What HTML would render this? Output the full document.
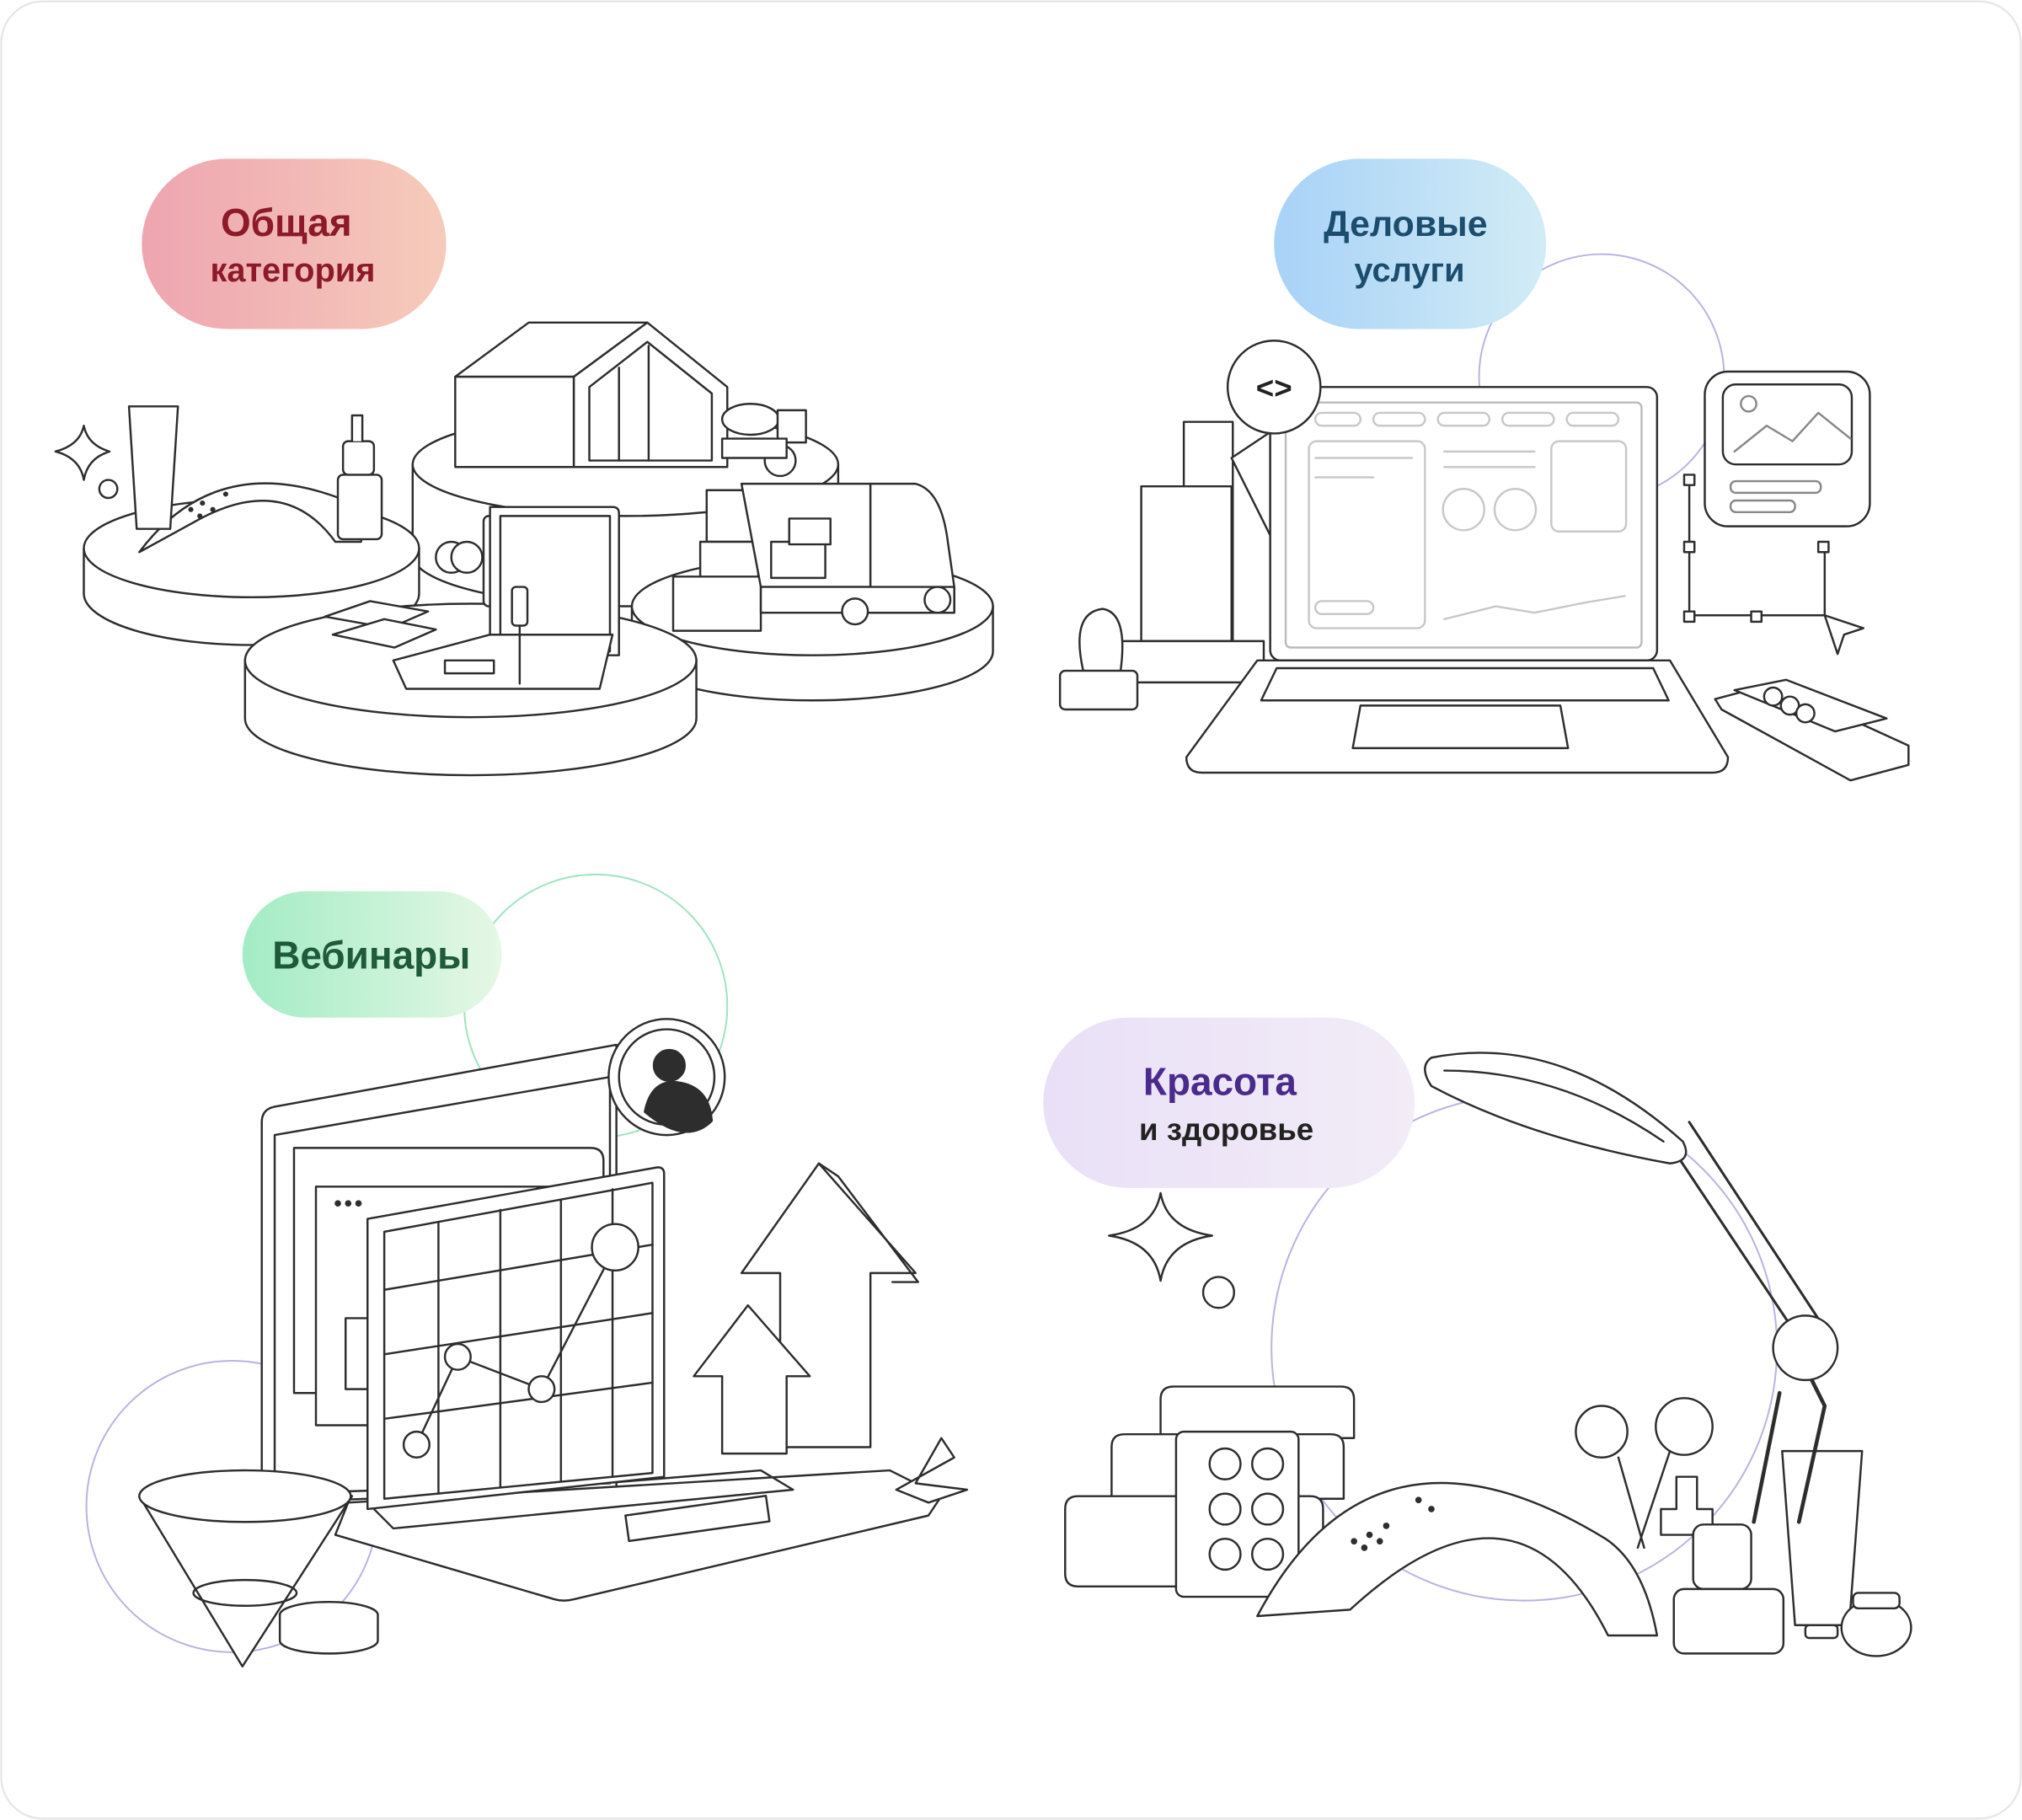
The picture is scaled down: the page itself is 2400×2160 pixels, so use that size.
<!DOCTYPE html>
<html><head><meta charset="utf-8"><style>
html,body{margin:0;padding:0;background:#fff;}
svg{display:block}
text{font-family:"Liberation Sans",sans-serif;font-weight:bold;}
</style></head><body>
<svg width="2400" height="2160" viewBox="0 0 1568 1411" xmlns="http://www.w3.org/2000/svg">
<defs>
<linearGradient id="g1" x1="0" x2="1"><stop offset="0" stop-color="#eea5b0"/><stop offset="1" stop-color="#f6cbbb"/></linearGradient>
<linearGradient id="g2" x1="0" x2="1"><stop offset="0" stop-color="#a8d2f7"/><stop offset="1" stop-color="#d2ecf6"/></linearGradient>
<linearGradient id="g3" x1="0" x2="1"><stop offset="0" stop-color="#a3ecc4"/><stop offset="1" stop-color="#e6f7e6"/></linearGradient>
<linearGradient id="g4" x1="0" x2="1"><stop offset="0" stop-color="#e9e0f7"/><stop offset="1" stop-color="#f2ecf7"/></linearGradient>
</defs>
<rect x="1" y="1" width="1566" height="1409" rx="32" fill="#fff" stroke="#e6e6e6" stroke-width="1.5"/>

<!-- decorative circles -->
<g fill="none" stroke-width="1.3">
<circle cx="1242" cy="292" r="95" stroke="#b9b3e0"/>
<circle cx="462" cy="780" r="102" stroke="#9fe3c0"/>
<circle cx="180" cy="1168" r="113" stroke="#b9b3e0"/>
<circle cx="1182" cy="1045" r="196" stroke="#b9b3e0"/>
</g>

<g fill="#fff" stroke="#2d2d2d" stroke-width="1.6" stroke-linejoin="round" stroke-linecap="round">
<!-- ===== TOP LEFT ===== -->
<path d="M320 360 v70 a165 40 0 0 0 330 0 v-70"/>
<ellipse cx="485" cy="360" rx="165" ry="40"/>
<path d="M65 425 v35 a130 40 0 0 0 260 0 v-35"/>
<ellipse cx="195" cy="425" rx="130" ry="38"/>
<path d="M490 470 v35 a140 38 0 0 0 280 0 v-35"/>
<ellipse cx="630" cy="470" rx="140" ry="38"/>
<path d="M190 512 v45 a175 44 0 0 0 350 0 v-45"/>
<ellipse cx="365" cy="512" rx="175" ry="44"/>
<!-- house -->
<path d="M353 292 l57 -42 h92 l-57 42 z"/>
<rect x="353" y="292" width="92" height="70"/>
<path d="M445 292 l57 -42 l62 50 v62 h-119 z"/>
<path d="M457 300 l45 -35 l50 40 v52 h-95 z"/>
<line x1="480" y1="285" x2="480" y2="357"/><line x1="503" y1="268" x2="503" y2="357"/>
<!-- mixer -->
<ellipse cx="582" cy="325" rx="22" ry="12"/><rect x="603" y="318" width="22" height="25"/>
<circle cx="605" cy="357" r="12"/><rect x="560" y="340" width="50" height="15"/>
<!-- lamp arch + bottles -->
<path d="M108 428 q60 -80 160 -40 q15 8 12 32 l-20 0 q-40 -55 -110 -15 z"/>
<g fill="#2d2d2d" stroke="none"><circle cx="148" cy="395" r="2"/><circle cx="157" cy="390" r="2"/><circle cx="155" cy="400" r="2"/><circle cx="165" cy="395" r="2"/><circle cx="175" cy="383" r="2"/></g>
<path d="M100 315 h38 l-6 95 h-26 z"/>
<rect x="262" y="368" width="34" height="50" rx="4"/><rect x="266" y="342" width="24" height="26" rx="4"/><path d="M273 342 v-20 h8 v20"/>
<path d="M65 330 q3 15 20 20 q-17 5 -20 22 q-3 -17 -22 -22 q19 -5 22 -20z"/>
<circle cx="84" cy="379" r="7"/>
<!-- camera & laptop -->
<rect x="375" y="400" width="35" height="70" rx="4"/>
<circle cx="350" cy="432" r="12"/><circle cx="362" cy="432" r="12"/>
<path d="M380 393 h95 q5 0 5 5 v110 h-100 z"/>
<rect x="388" y="400" width="85" height="105"/>
<path d="M305 512 l75 -20 h95 l-10 42 h-150 z"/>
<rect x="345" y="512" width="38" height="10"/>
<rect x="397" y="455" width="12" height="30" rx="3"/><line x1="403" y1="485" x2="403" y2="530"/>
<path d="M252 478 l35 -12 l45 8 l-30 13 z"/><path d="M258 492 l40 -12 l40 8 l-32 14 z"/>
<!-- van & boxes -->
<rect x="548" y="380" width="42" height="40"/><rect x="543" y="420" width="45" height="30"/>
<rect x="522" y="447" width="68" height="42"/>
<path d="M575 375 h100 v80 h-85 z"/>
<path d="M675 375 h35 q20 5 25 45 l5 35 v20 h-65 z"/>
<rect x="598" y="420" width="42" height="28"/><rect x="612" y="402" width="32" height="20"/>
<path d="M590 455 h150 v20 h-150 z"/>
<circle cx="663" cy="474" r="10"/><circle cx="727" cy="465" r="10"/>

<!-- ===== TOP RIGHT ===== -->
<rect x="918" y="327" width="38" height="170"/>
<rect x="885" y="377" width="70" height="120"/>
<path d="M860 497 h120 v32 h-120 z"/>
<path d="M840 520 q-10 -45 15 -48 q20 3 14 48 z"/>
<rect x="822" y="520" width="60" height="30" rx="4"/>
<path d="M955 355 l30 -20 v80 z"/>
<rect x="985" y="300" width="300" height="212" rx="8"/>
<rect x="997" y="312" width="276" height="190" rx="4" stroke="#bbb"/>
<g stroke="#c8c8c8" fill="none">
<rect x="1015" y="342" width="90" height="145" rx="6"/><rect x="1203" y="342" width="58" height="70" rx="6"/>
<line x1="1020" y1="355" x2="1095" y2="355"/><line x1="1020" y1="370" x2="1065" y2="370"/><line x1="1120" y1="350" x2="1190" y2="350"/><line x1="1120" y1="362" x2="1190" y2="362"/>
<circle cx="1135" cy="395" r="16"/><circle cx="1175" cy="395" r="16"/>
<path d="M1120 480 l40 -10 l30 5 l40 -8 l30 -5"/>
<rect x="1020" y="320" width="35" height="10" rx="5"/><rect x="1065" y="320" width="40" height="10" rx="5"/><rect x="1115" y="320" width="40" height="10" rx="5"/><rect x="1165" y="320" width="40" height="10" rx="5"/><rect x="1215" y="320" width="40" height="10" rx="5"/>
<rect x="1020" y="466" width="45" height="10" rx="5"/>
</g>
<path d="M975 512 h320 l45 75 q0 12 -12 12 h-396 q-12 0 -12 -12 z"/>
<path d="M990 518 h292 l12 25 h-316 z"/>
<path d="M1055 547 h155 l6 33 h-167 z"/>
<circle cx="988" cy="300" r="36"/>
<text x="988" y="309" font-size="24" text-anchor="middle" fill="#222" stroke="none">&lt;&gt;</text>
<rect x="1322" y="288" width="128" height="120" rx="18"/>
<rect x="1336" y="298" width="100" height="62" rx="10"/>
<path d="M1345 350 l25 -20 l20 12 l20 -22 l25 20" fill="none" stroke="#888"/>
<circle cx="1356" cy="313" r="6" stroke="#888"/>
<rect x="1342" y="373" width="70" height="9" rx="4" stroke="#888"/><rect x="1342" y="388" width="50" height="9" rx="4" stroke="#888"/>
<path d="M1310 372 v105 h105 v-52" fill="none"/>
<rect x="1306" y="368" width="8" height="8"/><rect x="1306" y="420" width="8" height="8"/><rect x="1306" y="474" width="8" height="8"/><rect x="1358" y="474" width="8" height="8"/><rect x="1410" y="420" width="8" height="8"/>
<path d="M1415 477 l30 10 l-15 5 l-5 15 z"/>
<path d="M1330 542 l45 -12 l105 48 v15 l-45 12 l-100 -55 z"/>
<path d="M1345 535 l40 -8 l78 30 l-40 10 z"/>
<circle cx="1375" cy="540" r="7"/><circle cx="1388" cy="547" r="7"/><circle cx="1400" cy="553" r="7"/>

<!-- ===== BOTTOM LEFT ===== -->
<path d="M203 870 q0 -10 10 -12 l265 -48 v345 l-275 10 z"/>
<path d="M213 880 l260 -45 v315 l-260 8 z"/>
<path d="M228 890 h230 q10 0 10 10 v180 h-240 z"/>
<path d="M245 920 h220 v185 h-220 z"/>
<g fill="#2d2d2d" stroke="none"><circle cx="262" cy="933" r="2.5"/><circle cx="270" cy="933" r="2.5"/><circle cx="278" cy="933" r="2.5"/></g>
<rect x="268" y="1022" width="18" height="55"/>
<path d="M270 1165 l420 -25 l40 20 l-10 15 l-275 65 q-8 2 -15 0 l-170 -50 z"/>
<path d="M285 1165 l305 -25 l25 15 l-310 30 z" fill="none"/>
<rect x="485" y="1175" width="110" height="20" transform="rotate(-8 485 1175)"/>
<path d="M285 945 l225 -40 q5 0 5 5 v235 l-230 25 z"/>
<path d="M298 955 l208 -38 v225 l-208 20 z"/>
<g fill="none">
<line x1="340" y1="948" x2="340" y2="1158"/><line x1="388" y1="938" x2="388" y2="1153"/><line x1="435" y1="930" x2="435" y2="1148"/><line x1="475" y1="922" x2="475" y2="1145"/>
<line x1="298" y1="1000" x2="506" y2="965"/><line x1="298" y1="1050" x2="506" y2="1018"/><line x1="298" y1="1100" x2="506" y2="1072"/>
<path d="M323 1120 l32 -68 l65 25 l57 -110"/>
</g>
<circle cx="323" cy="1120" r="10"/><circle cx="355" cy="1052" r="10"/><circle cx="420" cy="1077" r="10"/><circle cx="477" cy="967" r="18"/>
<circle cx="517" cy="835" r="45"/><circle cx="517" cy="835" r="37"/>
<circle cx="519" cy="826" r="12" fill="#2d2d2d"/>
<path d="M500 862 q5 -25 25 -23 q25 3 27 30 q-20 20 -52 -7z" fill="#2d2d2d"/>
<path d="M635 902 l-60 85 h30 v135 h70 v-135 h35 z"/>
<path d="M635 902 l15 10 l62 82 h-20" fill="none"/>
<path d="M580 1012 l-42 55 h22 v60 h50 v-60 h18 z"/>
<path d="M695 1155 l45 -25 l-10 -15 l-20 35 l40 5 l-30 10 z"/>
<path d="M108 1160 q80 -40 165 0 l-85 132 z"/>
<ellipse cx="190" cy="1160" rx="82" ry="20"/>
<ellipse cx="190" cy="1235" rx="40" ry="10" fill="none"/>
<ellipse cx="255" cy="1252" rx="38" ry="10"/><path d="M217 1252 v20 a38 10 0 0 0 76 0 v-20"/>

<!-- ===== BOTTOM RIGHT ===== -->
<path d="M900 1085 q0 -10 10 -10 h130 q10 0 10 10 v30 h-150 z"/>
<path d="M862 1122 q0 -10 10 -10 h160 q10 0 10 10 v40 h-180 z"/>
<path d="M826 1170 q0 -10 10 -10 h180 q10 0 10 10 v50 q0 10 -10 10 h-180 q-10 0 -10 -10 z"/>
<rect x="912" y="1110" width="95" height="128" rx="6"/>
<circle cx="950" cy="1135" r="12"/><circle cx="983" cy="1135" r="12"/><circle cx="950" cy="1170" r="12"/><circle cx="983" cy="1170" r="12"/><circle cx="950" cy="1205" r="12"/><circle cx="983" cy="1205" r="12"/>
<path d="M975 1253 q90 -170 270 -60 q30 20 40 75 h-38 q-70 -140 -200 -20 z"/>
<g fill="#2d2d2d" stroke="none"><circle cx="1050" cy="1195" r="2.5"/><circle cx="1062" cy="1190" r="2.5"/><circle cx="1058" cy="1200" r="2.5"/><circle cx="1070" cy="1195" r="2.5"/><circle cx="1075" cy="1183" r="2.5"/><circle cx="1100" cy="1163" r="2.5"/><circle cx="1110" cy="1170" r="2.5"/></g>
<circle cx="1242" cy="1110" r="20"/><circle cx="1306" cy="1106" r="22"/>
<path d="M1255 1130 l20 70 M1295 1125 l-25 75" fill="none"/>
<path d="M1300 1145 v25 h-12 v20 h40 v-20 h-12 v-25 z"/>
<rect x="1313" y="1182" width="45" height="50" rx="8"/>
<path d="M1382 1125 h62 l-10 135 h-42 z"/>
<rect x="1298" y="1232" width="85" height="50" rx="8"/>
<ellipse cx="1455" cy="1262" rx="27" ry="22"/><rect x="1437" y="1235" width="36" height="12" rx="4"/>
<rect x="1400" y="1260" width="25" height="10" rx="3"/>
<path d="M1385 1030 l30 60 l-20 90 M1380 1080 l-20 100" fill="none" stroke-width="3"/>
<path d="M1290 880 l100 150 M1310 870 l105 160" fill="none" stroke-width="2"/>
<circle cx="1400" cy="1045" r="25"/>
<path d="M1110 820 q100 -20 195 65 q8 15 -10 17 q-110 -20 -185 -60 q-10 -15 0 -22 z"/>
<path d="M1120 830 q90 0 170 55" fill="none"/>
<path d="M900 925 q5 28 40 33 q-35 5 -40 35 q-5 -30 -40 -35 q35 -5 40 -33z"/>
<circle cx="945" cy="1002" r="12"/>
</g>

<!-- ===== LABELS ===== -->
<rect x="110" y="123" width="236" height="132" rx="66" fill="url(#g1)"/>
<text x="222" y="183" font-size="30" text-anchor="middle" fill="#8c1a28">Общая</text>
<text x="227" y="218" font-size="26" text-anchor="middle" fill="#8c1a28">категория</text>
<rect x="988" y="123" width="211" height="132" rx="66" fill="url(#g2)"/>
<text x="1090" y="183" font-size="28" text-anchor="middle" fill="#1d4d6e">Деловые</text>
<text x="1093" y="218" font-size="26" text-anchor="middle" fill="#1d4d6e">услуги</text>
<rect x="188" y="691" width="201" height="98" rx="49" fill="url(#g3)"/>
<text x="288" y="751" font-size="30" text-anchor="middle" fill="#1f5a3a">Вебинары</text>
<rect x="809" y="789" width="288" height="132" rx="66" fill="url(#g4)"/>
<text x="946" y="849" font-size="30" text-anchor="middle" fill="#4a2a8a">Красота</text>
<text x="951" y="884" font-size="24" text-anchor="middle" fill="#222">и здоровье</text>
</svg>
</body></html>
